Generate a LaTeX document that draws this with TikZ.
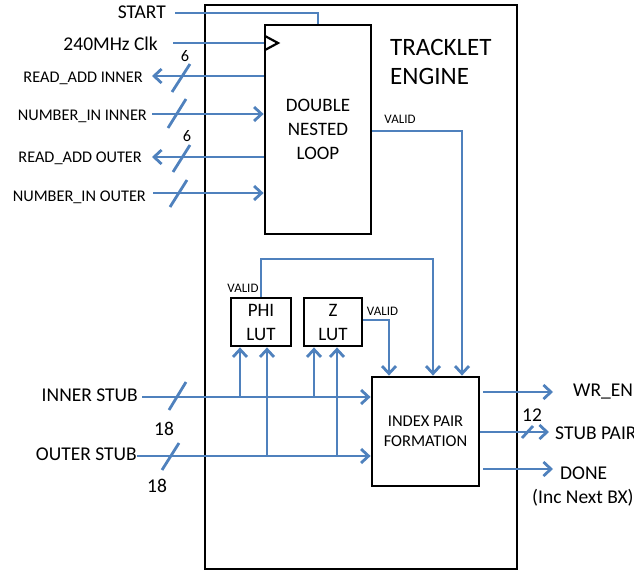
\documentclass[tikz,border=0pt]{standalone}
\usepackage{fontspec}
\setmainfont{Carlito}
\usetikzlibrary{arrows.meta}
\definecolor{lnblue}{RGB}{79,129,189}
\begin{document}
\begin{tikzpicture}[x=1pt,y=-1pt,
  wire/.style={draw=lnblue,line width=2.8pt},
  arr/.style={wire,-{Straight Barb[length=7.5pt,width=14pt,line width=2.8pt]}},
  blk/.style={draw=black,line width=2.8pt,rectangle,inner sep=0pt,align=center},
  lbl/.style={inner sep=0pt,font=\fontsize{16.3}{19}\selectfont},
  big/.style={inner sep=0pt,font=\fontsize{19.5}{24}\selectfont},
  sm/.style={inner sep=0pt,font=\fontsize{13}{15}\selectfont}]
\useasboundingbox (0,0) rectangle (634,573);
% blocks
\node[blk,minimum width=312pt,minimum height=564pt] (eng) at (361,287) {};
\node[blk,minimum width=106pt,minimum height=209pt,font=\fontsize{19}{24}\selectfont] (dnl) at (318,129.5) {DOUBLE\\NESTED\\LOOP};
\node[blk,minimum width=60pt,minimum height=48pt,font=\fontsize{19}{24}\selectfont] (phi) at (261,322) {PHI\\LUT};
\node[blk,minimum width=58pt,minimum height=48pt,font=\fontsize{19}{24}\selectfont] (z) at (333,322) {Z\\LUT};
\node[blk,minimum width=107pt,minimum height=109pt,font=\fontsize{16.5}{20}\selectfont] (idx) at (425.5,431.5) {INDEX PAIR\\FORMATION};
\node[inner sep=0pt,anchor=base west,align=left,font=\fontsize{25}{29}\selectfont] (title) at (390,84) {TRACKLET\\ENGINE};
% clock marker
\draw[black,line width=2.2pt] (265,36) -- (278,43) -- (265,50);
% coordinates
\coordinate (startc) at (175,13);
\coordinate (clkc) at (173,43);
\coordinate (rai) at (152,76);
\coordinate (nii) at (152,114);
\coordinate (rao) at (152,157);
\coordinate (nio) at (153,193);
\coordinate (isc) at (142,397);
\coordinate (osc) at (137,456);
\coordinate (dv) at (462,131);
\coordinate (pv) at (433,259);
\coordinate (zv) at (389,320);
\coordinate (wr) at (553,392);
\coordinate (sp) at (549,432);
\coordinate (dn) at (553,469);
\coordinate (t1) at (240,397);
\coordinate (t2) at (267,456);
\coordinate (t3) at (314,397);
\coordinate (t4) at (337,456);
% connectors
\draw[wire] (startc) -| (dnl.north);
\draw[wire] (clkc) -- (clkc -| dnl.west);
\draw[arr] (rai -| dnl.west) -- (rai);
\draw[arr] (nii) -- (nii -| dnl.west);
\draw[arr] (rao -| dnl.west) -- (rao);
\draw[arr] (nio) -- (nio -| dnl.west);
\draw[arr] (dnl.east |- dv) -| (dv |- idx.north);
\draw[arr] (phi.north) |- (pv) -- (pv |- idx.north);
\draw[arr] (z.east |- zv) -| (zv |- idx.north);
\draw[arr] (isc) -- (isc -| idx.west);
\draw[arr] (osc) -- (osc -| idx.west);
\draw[arr] (t1) -- (t1 |- phi.south);
\draw[arr] (t2) -- (t2 |- phi.south);
\draw[arr] (t3) -- (t3 |- z.south);
\draw[arr] (t4) -- (t4 |- z.south);
\draw[arr,shorten <=3pt] (wr -| idx.east) -- (wr);
\draw[arr] (sp -| idx.east) -- (sp);
\draw[arr,shorten <=3pt] (dn -| idx.east) -- (dn);
% bus slashes
\draw[wire] (172,92) -- (190,64);
\draw[wire] (168,128) -- (186,99);
\draw[wire] (173,172) -- (190,145);
\draw[wire] (170,207) -- (187,180);
\draw[wire] (169,410) -- (186,382);
\draw[wire] (162,470) -- (179,443);
\draw[wire] (522,438) -- (533,426);
% labels
\node[big,anchor=base east] (lstart) at (166,18) {START};
\node[big,anchor=base east] (lclk) at (158,50) {240MHz Clk};
\node[lbl,anchor=base east] (lrai) at (143,82) {READ\_ADD INNER};
\node[lbl,anchor=base east] (lnii) at (147,120) {NUMBER\_IN INNER};
\node[lbl,anchor=base east] (lrao) at (142,162) {READ\_ADD OUTER};
\node[lbl,anchor=base east] (lnio) at (146,201) {NUMBER\_IN OUTER};
\node[lbl,anchor=base] (six1) at (185,61) {6};
\node[lbl,anchor=base] (six2) at (187,141) {6};
\node[sm,anchor=base] (vd) at (400,123) {VALID};
\node[sm,anchor=base] (vp) at (243,292) {VALID};
\node[sm,anchor=base] (vz) at (382.5,315) {VALID};
\node[big,anchor=base east] (lis) at (138,401) {INNER STUB};
\node[big,anchor=base east] (los) at (137,460) {OUTER STUB};
\node[big,anchor=base] (n18a) at (164,435) {18};
\node[big,anchor=base] (n18b) at (157,492) {18};
\node[big,anchor=base west] (lwr) at (573,396) {WR\_EN};
\node[big,anchor=base] (n12) at (532,421) {12};
\node[big,anchor=base west] (lsp) at (555,439) {STUB PAIR};
\node[big,anchor=base west] (ldn) at (560,479) {DONE};
\node[big,anchor=base west] (linc) at (532,503) {(Inc Next BX)};
\end{tikzpicture}
\end{document}
